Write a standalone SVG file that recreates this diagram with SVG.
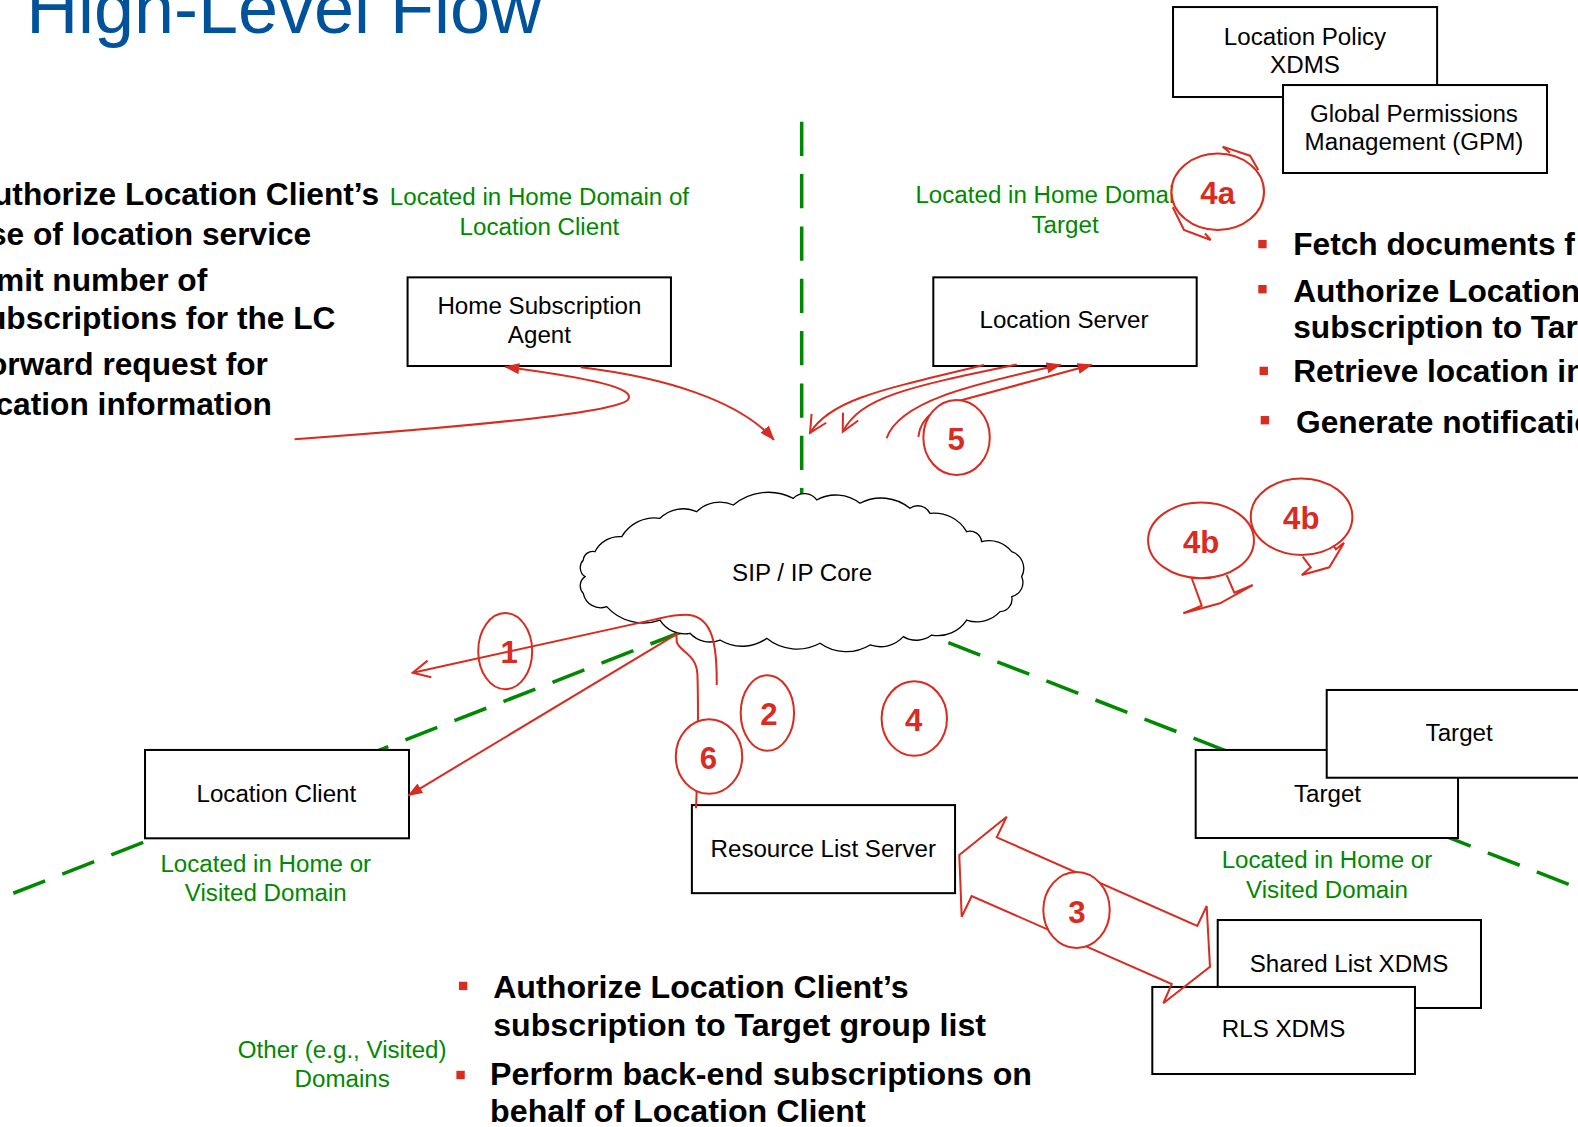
<svg xmlns="http://www.w3.org/2000/svg" width="1578" height="1127" viewBox="0 0 1578 1127">
<defs>
<style>
.box{fill:#fff;stroke:#000;stroke-width:2}
.nt{font-family:"Liberation Sans",Arial,sans-serif;font-size:24px;fill:#000;text-anchor:middle}
.gt{font-family:"Liberation Sans",Arial,sans-serif;font-size:24px;fill:#008800;text-anchor:middle}
.bt{font-family:"Liberation Sans",Arial,sans-serif;font-size:31.5px;font-weight:bold;fill:#000}
.bb{font-family:"Liberation Sans",Arial,sans-serif;font-size:32px;font-weight:bold;fill:#000}
.num{font-family:"Liberation Sans",Arial,sans-serif;font-size:31px;font-weight:bold;fill:#D92B1F;text-anchor:middle}
.red{fill:none;stroke:#D92B1F;stroke-width:2}
.ring{fill:#fff;stroke:#D92B1F;stroke-width:2}
.dash{fill:none;stroke:#008800;stroke-width:3.5;stroke-dasharray:34 18}
.bul{fill:#D92B1F}
.cloud{fill:#fff;stroke:#000;stroke-width:1.3}
</style>
<marker id="af" viewBox="0 0 15 11" refX="14" refY="5.5" markerWidth="15" markerHeight="11" markerUnits="userSpaceOnUse" orient="auto"><path d="M0,0 L15,5.5 L0,11 Z" fill="#D92B1F"/></marker>
<marker id="av" viewBox="0 0 20 20" refX="18" refY="10" markerWidth="20" markerHeight="20" markerUnits="userSpaceOnUse" orient="auto"><path d="M1,1.5 L18,10 L1,18.5" fill="none" stroke="#D92B1F" stroke-width="2"/></marker>
</defs>
<rect x="0" y="0" width="1578" height="1127" fill="#fff"/>
<g transform="scale(1.00638)">
<text x="26" y="33" font-family="'Liberation Sans',Arial,sans-serif" font-size="71.5" fill="#00529B">High-Level Flow</text>

<g id="domain-boundaries">
<line class="dash" x1="796.6" y1="121" x2="796.6" y2="500"/>
<line class="dash" x1="13.2" y1="887.6" x2="682" y2="626" style="stroke-dasharray:34 18.3"/>
<line class="dash" x1="942.3" y1="638.6" x2="1562" y2="880" style="stroke-dasharray:34 18.3"/>
</g>

<g id="sip-ip-core">
<path class="cloud" d="M655.8,515 A33,33 0 0 1 692.3,508.4 A33,33 0 0 1 728.7,501.8 A54,54 0 0 1 788.3,495.2 A15,15 0 0 1 811.5,496.8 A39,39 0 0 1 854.5,500.1 A45,45 0 0 1 904.2,505.1 A13.5,13.5 0 0 1 924.1,510.1 A37,37 0 0 1 960.5,528.3 A11.6,11.6 0 0 1 975.4,538.2 A28,28 0 0 1 1005.3,548.2 A17.5,17.5 0 0 1 1015.2,573 A14.5,14.5 0 0 1 1005.3,592.9 A12.3,12.3 0 0 1 993.7,607.8 A31,31 0 0 1 960.5,616.1 A34,34 0 0 1 925.8,631 A25,25 0 0 1 897.6,632.6 A31,31 0 0 1 864.5,640.9 A45,45 0 0 1 814.8,639.2 A48,48 0 0 1 761.8,634.3 A42,42 0 0 1 715.4,636 A27,27 0 0 1 685.6,629.3 A29,29 0 0 1 655.8,616.1 A49,49 0 0 1 602.8,602.8 A17.5,17.5 0 0 1 579.6,589.6 A11,11 0 0 1 581.3,573 A11,11 0 0 1 579.6,556.4 A9.3,9.3 0 0 1 591.2,548.2 A27,27 0 0 1 617.8,533.3 A38,38 0 0 1 655.8,515 Z"/>
<text class="nt" x="797" y="577">SIP / IP Core</text>
</g>

<g id="location-policy-xdms"><rect class="box" x="1165.6" y="7" width="262.4" height="89.4"/><text class="nt" x="1296.7" y="44.7">Location Policy</text><text class="nt" x="1296.7" y="72.9">XDMS</text></g>
<g id="gpm"><rect class="box" x="1274.9" y="84.5" width="262.3" height="87.4"/><text class="nt" x="1405" y="120.9">Global Permissions</text><text class="nt" x="1405" y="149">Management (GPM)</text></g>
<g id="home-subscription-agent"><rect class="box" x="405" y="275.6" width="261.7" height="88.1"/><text class="nt" x="536" y="312">Home Subscription</text><text class="nt" x="536" y="340.5">Agent</text></g>
<g id="location-server"><rect class="box" x="927.4" y="275.6" width="261.7" height="88.1"/><text class="nt" x="1057.3" y="326.2">Location Server</text></g>
<g id="location-client"><rect class="box" x="144.1" y="745.2" width="262.3" height="87.8"/><text class="nt" x="274.6" y="796.6">Location Client</text></g>
<g id="resource-list-server"><rect class="box" x="687.5" y="800" width="261.5" height="87.5"/><text class="nt" x="818" y="852">Resource List Server</text></g>
<g id="target-1"><rect class="box" x="1188.1" y="745.2" width="260.7" height="87.5"/><text class="nt" x="1319.1" y="796.6">Target</text></g>
<g id="target-2"><rect class="box" x="1318.3" y="685.6" width="270" height="87.2"/><text class="nt" x="1449.9" y="736.3">Target</text></g>
<g id="shared-list-xdms"><rect class="box" x="1210" y="914.2" width="261.6" height="87.4"/><text class="nt" x="1340.5" y="965.8">Shared List XDMS</text></g>
<g id="rls-xdms"><rect class="box" x="1145" y="980.7" width="261" height="86.5"/><text class="nt" x="1275.4" y="1030.4">RLS XDMS</text></g>

<g id="domain-labels">
<text class="gt" x="536" y="203.7">Located in Home Domain of</text>
<text class="gt" x="536" y="233.5">Location Client</text>
<text class="gt" x="1058.3" y="202">Located in Home Domain of</text>
<text class="gt" x="1058.3" y="231.2">Target</text>
<text class="gt" x="264.1" y="866.2">Located in Home or</text>
<text class="gt" x="264.1" y="895">Visited Domain</text>
<text class="gt" x="1318.6" y="862.8">Located in Home or</text>
<text class="gt" x="1318.6" y="892.6">Visited Domain</text>
<text class="gt" x="340" y="1051.6">Other (e.g., Visited)</text>
<text class="gt" x="340" y="1080">Domains</text>
</g>

<g id="connectors">
<path class="red" d="M292.7,436.5 C450,425 612,411 624,397 C632,386 590,376 502,364.5" marker-end="url(#af)"/>
<path class="red" d="M577,365 C660,375 735,398 769,437" marker-end="url(#af)"/>
<path class="red" d="M977.8,362.7 C874,387.5 824.7,397.5 804.9,430.2" marker-end="url(#av)"/>
<path class="red" d="M1010.3,362.2 C900,385 855,395 837.4,429" marker-end="url(#av)"/>
<path class="red" d="M881,435.5 C893,400 960,383 1054,362.5" marker-end="url(#af)"/>
<path class="red" d="M912.5,434 C915,412 935,403 956,397.5 L1084.8,362.5" marker-end="url(#af)"/>
<path class="red" d="M712.2,680.7 C712.5,640 708,614 685,611 C670,610.5 662,613 652,615.2 L410.1,668.4" marker-end="url(#av)"/>
<path class="red" d="M674,629 L405.7,790.5" marker-end="url(#af)"/>
<path class="red" d="M691.6,803.2 L692.5,780 C693.5,740 694,700 693,670 C692,650 676,648 672.5,638 L672,629"/>
<polygon class="red" points="953.2,849.6 1000.3,811.5 990.4,832 1189.7,920.1 1199,900.3 1202.3,960.6 1155.9,996.9 1164.3,977.8 965.5,890.3 955.6,910.9"/>
</g>

<g id="step-1"><ellipse cx="502" cy="647" rx="26.8" ry="37.8" fill="none" stroke="#D92B1F" stroke-width="2"/><text class="num" x="506" y="659">1</text></g>
<g id="step-2"><ellipse class="ring" cx="762.5" cy="708.5" rx="26.5" ry="37.5"/><text class="num" x="764" y="720.5">2</text></g>
<g id="step-6"><ellipse class="ring" cx="704.5" cy="751.7" rx="33" ry="37"/><text class="num" x="704" y="764">6</text></g>
<g id="step-4"><ellipse class="ring" cx="908.5" cy="714" rx="32.5" ry="37"/><text class="num" x="908" y="726">4</text></g>
<g id="step-5"><ellipse class="ring" cx="950.5" cy="434.7" rx="33" ry="37.3"/><text class="num" x="950" y="447.5">5</text></g>
<g id="step-3"><ellipse class="ring" cx="1069.7" cy="904.2" rx="33" ry="37.8"/><text class="num" x="1070" y="917">3</text></g>
<g id="step-4a">
<polyline class="red" points="1250.3,168.9 1242.1,154.7 1214.9,145.7 1222.2,151.7"/>
<polyline class="red" points="1165.3,206 1176.5,228.5 1203,238.5 1197.3,231.8"/>
<ellipse class="ring" cx="1210" cy="190.5" rx="46" ry="38"/><text class="num" x="1210" y="202.5">4a</text></g>
<g id="step-4b-1">
<polyline class="red" points="1184.2,574.6 1194.1,601.9 1175.8,609.4 1212.3,599.5 1244.8,581.3 1226.5,588.9 1218.9,571.4"/>
<ellipse class="ring" cx="1193.4" cy="537" rx="52.6" ry="37.6"/><text class="num" x="1193.5" y="549.5">4b</text></g>
<g id="step-4b-2">
<polyline class="red" points="1294.4,553.2 1302.4,563.7 1293.5,571.4 1320.9,563.7 1335.5,539.3 1327.5,545.8 1324.9,541.9"/>
<ellipse class="ring" cx="1293.3" cy="513.4" rx="50.5" ry="38"/><text class="num" x="1293" y="526">4b</text></g>

<g id="hsa-notes">
<text class="bt" x="-7" y="204">uthorize Location Client’s</text>
<text class="bt" x="-11" y="243.5">se of location service</text>
<text class="bt" x="-4" y="289.5">mit number of</text>
<text class="bt" x="-13" y="326.5">ubscriptions for the LC</text>
<text class="bt" x="-12" y="372.5">orward request for</text>
<text class="bt" x="-4.5" y="412">cation information</text>
</g>

<g id="ls-notes">
<rect class="bul" x="1250.3" y="238.4" width="8.3" height="8.3"/>
<rect class="bul" x="1250.3" y="283.2" width="8.3" height="8.3"/>
<rect class="bul" x="1251.6" y="364.4" width="8.3" height="8.3"/>
<rect class="bul" x="1252.7" y="413.4" width="8.3" height="8.3"/>
<text class="bt" x="1285" y="253.4">Fetch documents f</text>
<text class="bt" x="1285" y="299.8">Authorize Location</text>
<text class="bt" x="1285" y="336.2">subscription to Tar</text>
<text class="bt" x="1285" y="379.3">Retrieve location in</text>
<text class="bt" x="1287.8" y="430.6">Generate notificatio</text>
</g>

<g id="rls-notes">
<rect class="bul" x="456" y="975.5" width="8.3" height="8.3"/>
<rect class="bul" x="453.5" y="1064" width="8.3" height="8.3"/>
<text class="bb" x="490" y="991.5">Authorize Location Client’s</text>
<text class="bb" x="490" y="1029">subscription to Target group list</text>
<text class="bb" x="487" y="1078">Perform back-end subscriptions on</text>
<text class="bb" x="487" y="1114.5">behalf of Location Client</text>
</g>
</g>
</svg>
